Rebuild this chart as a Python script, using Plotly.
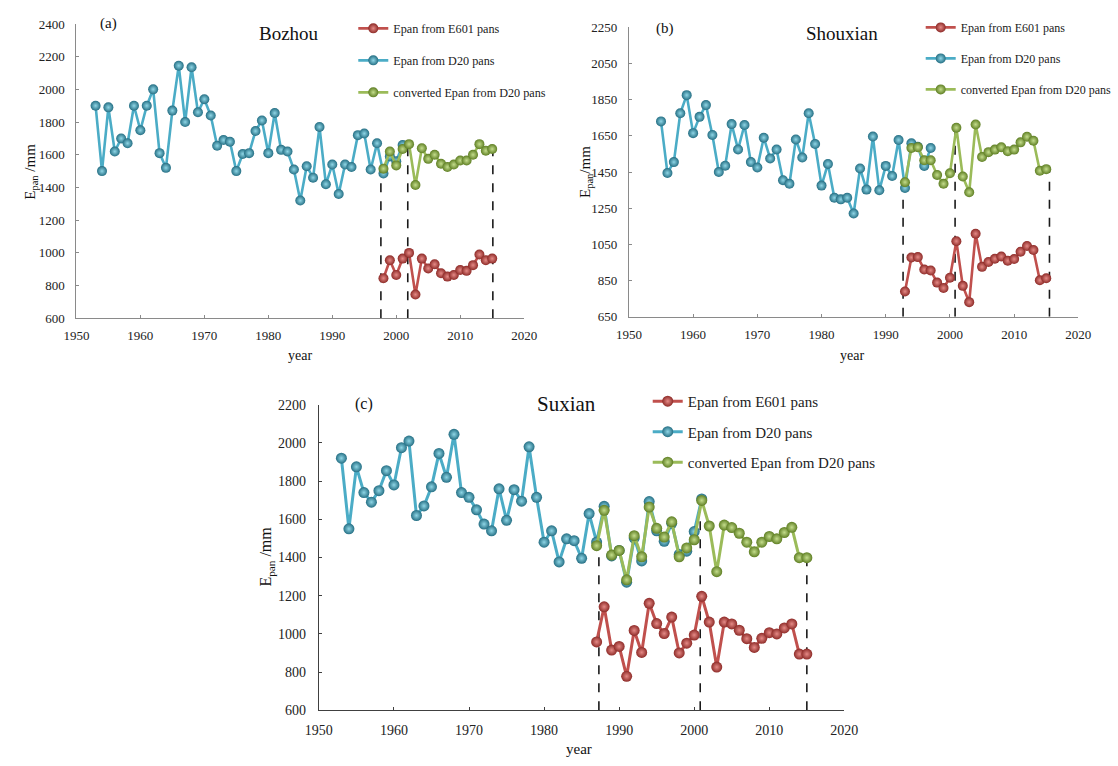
import plotly.graph_objects as go

# ---------------- data ----------------
# (a) Bozhou
bz_d20_years = list(range(1953, 2002))
bz_d20 = [1900, 1500, 1890, 1620, 1700, 1670, 1900, 1750, 1900, 2000,
          1610, 1520, 1870, 2145, 1800, 2135, 1860, 1940, 1840, 1655,
          1690, 1680, 1500, 1605, 1610, 1745, 1810, 1610, 1855, 1630,
          1620, 1510, 1320, 1530, 1460, 1770, 1420, 1540, 1360, 1540,
          1525, 1720, 1730, 1510, 1670, 1485, 1590, 1560, 1660]
bz_conv_years = list(range(1998, 2016))
bz_conv = [1515, 1620, 1535, 1635, 1665, 1415, 1640, 1575, 1600, 1545,
           1525, 1540, 1565, 1565, 1600, 1665, 1625, 1635]
bz_e601_years = list(range(1998, 2016))
bz_e601 = [845, 955, 865, 965, 1000, 745, 965, 905, 930, 875,
           855, 865, 895, 890, 925, 990, 955, 965]
bz_dash = [1997.6, 2001.8, 2015.1]

# (b) Shouxian
sx_d20_years = list(range(1955, 1998))
sx_d20 = [1730, 1445, 1505, 1775, 1875, 1665, 1755, 1820, 1655, 1450,
          1485, 1715, 1575, 1710, 1505, 1475, 1640, 1525, 1575, 1405,
          1385, 1630, 1530, 1775, 1605, 1375, 1495, 1308, 1299, 1308,
          1221, 1470, 1353, 1646, 1349, 1484, 1428, 1627, 1362, 1609,
          1590, 1484, 1583]
sx_conv_years = list(range(1993, 2016))
sx_conv = [1394, 1583, 1587, 1515, 1515, 1434, 1385, 1443, 1695, 1425,
           1338, 1713, 1533, 1560, 1574, 1587, 1565, 1574, 1614, 1645,
           1623, 1457, 1466]
sx_e601_years = list(range(1993, 2016))
sx_e601 = [790, 978, 980, 911, 906, 839, 809, 866, 1068, 821,
           731, 1109, 926, 953, 971, 983, 960, 969, 1010, 1041,
           1019, 852, 863]
sx_dash = [1992.7, 2000.8, 2015.5]

# (c) Suxian
su_d20_years = list(range(1953, 2002))
su_d20 = [1920, 1550, 1875, 1740, 1690, 1750, 1855, 1780, 1975, 2010,
          1620, 1670, 1770, 1945, 1820, 2045, 1740, 1715, 1650, 1575,
          1540, 1760, 1595, 1755, 1695, 1980, 1715, 1480, 1540, 1377,
          1498, 1488, 1396, 1630, 1481, 1668, 1408, 1437, 1271, 1502,
          1382, 1693, 1540, 1485, 1579, 1416, 1433, 1536, 1707]
su_conv_years = list(range(1987, 2016))
su_conv = [1462, 1647, 1413, 1437, 1283, 1514, 1404, 1664, 1553, 1507,
           1587, 1404, 1450, 1493, 1699, 1565, 1326, 1570, 1557, 1527,
           1480, 1430, 1480, 1510, 1498, 1531, 1558, 1399, 1399]
su_e601_years = list(range(1987, 2016))
su_e601 = [958, 1142, 915, 934, 778, 1018, 903, 1160, 1054, 1002,
           1088, 900, 951, 994, 1197, 1062, 826, 1062, 1052, 1019,
           975, 929, 977, 1006, 1000, 1031, 1052, 894, 894]
su_dash = [1987.3, 2000.8, 2015.0]

names = ["Epan from E601 pans", "Epan from D20 pans", "converted Epan from D20 pans"]
x_ticks = [1950, 1960, 1970, 1980, 1990, 2000, 2010, 2020]
titles = ["Bozhou", "Shouxian", "Suxian"]
labels = ["(a)", "(b)", "(c)"]
x_title = "year"
y_titles = ["E<sub>pan</sub> /mm", "E<sub>pan</sub>/mm", "E<sub>pan</sub> /mm"]

# ---------------- styling ----------------
W, H = 1118, 766
SERIF = "Liberation Serif"
styles = {
    "e601": dict(line="#c0504d", edge="#8e2b28", center="#e58a86"),
    "d20": dict(line="#4bacc6", edge="#256f84", center="#8fd6e6"),
    "conv": dict(line="#9bbb59", edge="#5f7f24", center="#c4dd8c"),
}

panels = [
    dict(d20=(bz_d20_years, bz_d20), conv=(bz_conv_years, bz_conv), e601=(bz_e601_years, bz_e601),
         dash=bz_dash, yr=[600, 2400], ydt=200, y0=600,
         px=(64, 523.3), py=(17.3, 317.5), axc="#8a8a8a", msize=10, lw=2.6,
         leg=(348, 7), legfs=12.2, gap=13, tfs=19, tickfs=13, xso=5, yso=8,
         title_xy=(282, 27), lab_xy=(97, 17), xt_xy=(293, 355), yt_xy=(17.5, 168)),
    dict(d20=(sx_d20_years, sx_d20), conv=(sx_conv_years, sx_conv), e601=(sx_e601_years, sx_e601),
         dash=sx_dash, yr=[650, 2250], ydt=200, y0=650,
         px=(630.7, 1091.7), py=(20.7, 316), axc="#8a8a8a", msize=10, lw=2.6,
         leg=(930, 6), legfs=12, gap=12, tfs=19, tickfs=13, xso=5, yso=8,
         title_xy=(849, 27), lab_xy=(668, 22), xt_xy=(860, 355), yt_xy=(586, 168)),
    dict(d20=(su_d20_years, su_d20), conv=(su_conv_years, su_conv), e601=(su_e601_years, su_e601),
         dash=su_dash, yr=[600, 2200], ydt=200, y0=600,
         px=(312.7, 851.7), py=(405.7, 717.3), axc="#404040", msize=11, lw=3,
         leg=(650, 385.5), legfs=15, gap=8, tfs=21, tickfs=14, xso=7, yso=9,
         title_xy=(567, 405), lab_xy=(359, 405), xt_xy=(580, 757), yt_xy=(259, 561)),
]

fig = go.Figure()
shapes = []
annotations = []
layout = {}

for i, p in enumerate(panels):
    sfx = "" if i == 0 else str(i + 1)
    xa, ya = "x" + sfx, "y" + sfx
    leg = "legend" + sfx
    order = [("d20", 2), ("conv", 3), ("e601", 1)]
    for key, rank in order:
        xs, ys = p[key]
        st = styles[key]
        fig.add_trace(go.Scatter(
            x=xs, y=ys, mode="lines+markers",
            name=names[rank - 1], legendrank=rank, legendgroup=f"{key}{i}",
            line=dict(color=st["line"], width=p["lw"]),
            marker=dict(size=p["msize"], color=st["edge"],
                        gradient=dict(type="radial", color=st["center"]),
                        line=dict(width=0)),
            xaxis=xa, yaxis=ya, legend=leg, showlegend=True,
        ))
    # dashed vertical lines from axis to the converted series value
    cx, cy = p["conv"]
    for d in p["dash"]:
        yr_near = min(cx, key=lambda v: abs(v - d))
        top = cy[cx.index(yr_near)]
        shapes.append(dict(type="line", xref=xa, yref=ya, x0=d, x1=d, y0=p["yr"][0], y1=top,
                           line=dict(color="#1a1a1a", width=1.6, dash="dash"), layer="below"))
    xdom = [p["px"][0] / W, p["px"][1] / W]
    ydom = [1 - p["py"][1] / H, 1 - p["py"][0] / H]
    yticks = list(range(p["y0"], p["yr"][1] + 1, p["ydt"]))
    layout["xaxis" + sfx] = dict(
        domain=xdom, range=[1950, 2020], anchor=ya, tickvals=x_ticks,
        ticks="inside", ticklen=3, tickcolor=p["axc"], showline=True, linecolor=p["axc"],
        linewidth=1.2, showgrid=False, zeroline=False, ticklabelstandoff=p["xso"],
        tickfont=dict(family=SERIF, size=p["tickfs"], color="#222"),
    )
    layout["yaxis" + sfx] = dict(
        domain=ydom, range=p["yr"], anchor=xa, tickvals=yticks,
        ticks="inside", ticklen=3, tickcolor=p["axc"], showline=True, linecolor=p["axc"],
        linewidth=1.2, showgrid=False, zeroline=False, ticklabelstandoff=p["yso"],
        tickfont=dict(family=SERIF, size=p["tickfs"], color="#222"),
    )
    layout[leg] = dict(
        x=p["leg"][0] / W, y=1 - p["leg"][1] / H, xanchor="left", yanchor="top",
        bgcolor="rgba(0,0,0,0)", tracegroupgap=p["gap"], itemwidth=30,
        font=dict(family=SERIF, size=p["legfs"], color="#222"),
    )
    def ann(text, xy, size, angle=0):
        annotations.append(dict(text=text, x=xy[0] / W, y=1 - xy[1] / H,
                                xref="paper", yref="paper", showarrow=False,
                                xanchor="center", yanchor="middle", textangle=angle,
                                font=dict(family=SERIF, size=size, color="#111")))
    ann(titles[i], p["title_xy"], p["tfs"])
    ann(labels[i], p["lab_xy"], p["tickfs"] + 2)
    ann(x_title, p["xt_xy"], p["tickfs"] + 1)
    ann(y_titles[i], p["yt_xy"], p["tickfs"] + 2, angle=-90)

fig.update_layout(
    autosize=True, margin=dict(l=0, r=0, t=0, b=0),
    paper_bgcolor="white", plot_bgcolor="white", showlegend=True,
    shapes=shapes, annotations=annotations, **layout,
)

# pin the plot div to the page origin so the page is exactly W x H
fig.write_html("out.html",
               default_width=f"{W}px; position:absolute; left:0px; top:0px",
               default_height=f"{H}px")
